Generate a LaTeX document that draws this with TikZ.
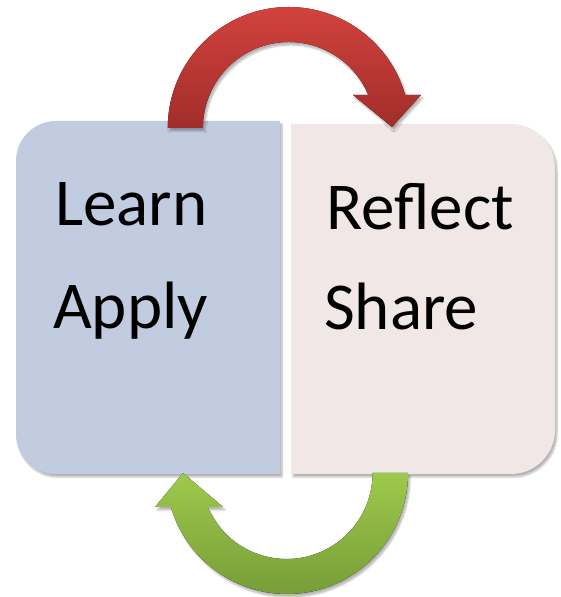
\documentclass[tikz,border=0pt]{standalone}
\usepackage{fontspec}
\setmainfont{Carlito}
\usetikzlibrary{shadows.blur}
\definecolor{learnblue}{HTML}{C1CCE1}
\definecolor{sharepink}{HTML}{F2E7E7}
\definecolor{redtop}{HTML}{D2423D}
\definecolor{redbot}{HTML}{A12D2A}
\definecolor{greentop}{HTML}{9DCA4C}
\definecolor{greenbot}{HTML}{779D38}
\begin{document}
\begin{tikzpicture}[x=1pt,y=1pt,
	every node/.style={inner sep=0,anchor=base west,font=\fontsize{67}{80}\selectfont},
	boxshadow/.style={blur shadow={shadow xshift=2pt,shadow yshift=-3pt,shadow blur steps=6,shadow opacity=30}},
	redarrow/.style={top color=redtop,bottom color=redbot,boxshadow},
	greenarrow/.style={top color=greentop,bottom color=greenbot,boxshadow}]
\useasboundingbox (0,0) rectangle (561,597);
% the two halves
\fill[learnblue,boxshadow] (280,476) -- (56,476) arc[start angle=90,end angle=180,radius=40]
	-- (16,163) arc[start angle=180,end angle=270,radius=40] -- (280,123) -- cycle;
\fill[sharepink,boxshadow] (291,473) -- (511,473) arc[start angle=90,end angle=0,radius=44]
	-- (555,167) arc[start angle=0,end angle=-90,radius=44] -- (291,123) -- cycle;
% arrows
\fill[redarrow] (167.75,469) arc[start angle=180,end angle=15.83,radius=121]
	-- (421,502) -- (392,470) -- (353,502)
	-- ++(15.3,0) arc[start angle=22.56,end angle=180,radius=86] -- cycle;
\fill[greenarrow] (408,124) arc[start angle=0,end angle=-163.68,radius=121]
	-- (155,90) -- (183,124) -- (223,90)
	-- (207.6,90) arc[start angle=-156.71,end angle=0,radius=86] -- cycle;
% labels
\node (learn) at (55,371) {Learn};
\node (apply) at (53,268) {Apply};
\node (reflect) at (326,367) {Reflect};
\node (share) at (324,267) {Share};
\end{tikzpicture}
\end{document}
